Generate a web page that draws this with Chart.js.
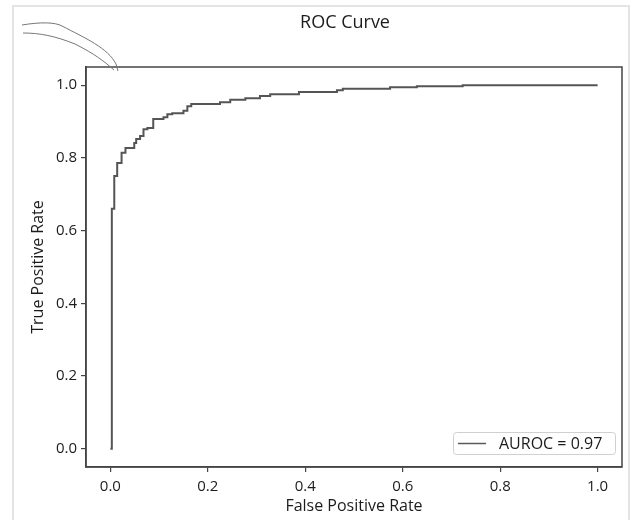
<!DOCTYPE html>
<html>
<head>
<meta charset="utf-8">
<script src="https://cdn.jsdelivr.net/npm/chart.js@4"></script>
<style>
  html, body { margin: 0; padding: 0; background: #fff; }
  #wrap { width: 631px; height: 520px; }
</style>
</head>
<body>
<div id="wrap"><canvas id="roc" width="631" height="520"></canvas></div>
<script>
// ROC points (step curve)
var fpr = [0, 0.003, 0.008, 0.014, 0.023, 0.031, 0.049, 0.053, 0.061, 0.068, 0.076, 0.088, 0.109, 0.117, 0.127,
           0.150, 0.158, 0.166, 0.225, 0.246, 0.277, 0.307, 0.328, 0.387, 0.465, 0.477, 0.574, 0.629, 0.723, 1.0];
var tpr = [0, 0.66, 0.75, 0.786, 0.814, 0.827, 0.841, 0.852, 0.86, 0.879, 0.882, 0.907, 0.912, 0.92, 0.923,
           0.93, 0.942, 0.948, 0.953, 0.96, 0.964, 0.97, 0.975, 0.981, 0.986, 0.99, 0.994, 0.997, 1.0, 1.0];
var tickValues = [0, 0.2, 0.4, 0.6, 0.8, 1.0];
var aurocLabel = 'AUROC = 0.97';

var points = fpr.map(function(x, i){ return {x: x, y: tpr[i]}; });
var fontFam = '"Open Sans", "DejaVu Sans", sans-serif';
var textCol = '#1c1c1c';

// frame, title, pen scribble and in-plot legend
var extras = {
    id: 'extras',
    beforeDraw: function(chart){
        var c = chart.ctx;
        c.save();
        c.fillStyle = '#fff';
        c.fillRect(0, 0, chart.width, chart.height);
        c.strokeStyle = '#e4e4e4';
        c.lineWidth = 2;
        c.strokeRect(13, 6, 616, 530);
        c.restore();
    },
    afterDraw: function(chart){
        var c = chart.ctx, a = chart.chartArea;
        c.save();
        // box round the axes
        c.strokeStyle = '#444';
        c.lineWidth = 1.5;
        c.strokeRect(a.left, a.top, a.right - a.left, a.bottom - a.top);

        // title
        c.fillStyle = textCol;
        c.font = '18px ' + fontFam;
        c.textAlign = 'center';
        c.textBaseline = 'middle';
        c.fillText('ROC Curve', 345, 23);

        // scribble at top-left
        c.strokeStyle = '#777';
        c.lineWidth = 1;
        c.beginPath();
        c.moveTo(22, 25);
        c.bezierCurveTo(40, 22, 55, 22, 62, 26);
        c.bezierCurveTo(85, 38, 108, 48, 116, 64);
        c.lineTo(118, 71);
        c.stroke();
        c.beginPath();
        c.moveTo(23, 33);
        c.bezierCurveTo(40, 33, 55, 36, 75, 44);
        c.bezierCurveTo(95, 54, 105, 62, 114, 70);
        c.stroke();

        // legend
        var lx = 453, ly = 432, lw = 162, lh = 22;
        c.fillStyle = 'rgba(255,255,255,0.85)';
        c.strokeStyle = '#d0d0d0';
        c.lineWidth = 1;
        c.beginPath();
        c.roundRect(lx + 0.5, ly + 0.5, lw, lh, 3);
        c.fill();
        c.stroke();
        c.strokeStyle = '#5a5a5a';
        c.lineWidth = 1.5;
        c.beginPath();
        c.moveTo(458, ly + lh / 2 + 0.5);
        c.lineTo(486, ly + lh / 2 + 0.5);
        c.stroke();
        c.fillStyle = textCol;
        c.font = '16px ' + fontFam;
        c.textAlign = 'left';
        c.fillText(aurocLabel, 499, ly + lh / 2 + 1);
        c.restore();
    }
};

function axisStyle(){
    return {
        type: 'linear',
        min: -0.05,
        max: 1.05,
        afterBuildTicks: function(s){ s.ticks = tickValues.map(function(v){ return {value: v}; }); },
        grid: { display: true, drawOnChartArea: false, drawTicks: true, tickLength: 5, color: '#444', lineWidth: 1.2 },
        border: { display: true, color: '#444', width: 1.5 },
        ticks: {
            color: textCol,
            font: { family: fontFam, size: 15 },
            padding: 6,
            callback: function(v){ return v.toFixed(1); }
        }
    };
}

var xAxis = axisStyle();
xAxis.title = { display: true, text: 'False Positive Rate', color: textCol,
                font: { family: fontFam, size: 16 }, padding: { top: 4, bottom: 4 } };
xAxis.afterFit = function(s){ s.height = 53; };

var yAxis = axisStyle();
yAxis.title = { display: true, text: 'True Positive Rate', color: textCol,
                font: { family: fontFam, size: 16 }, padding: { top: 29, bottom: 29 } };
yAxis.afterFit = function(s){ s.width = 86; };
yAxis.ticks.padding = 4;

new Chart(document.getElementById('roc').getContext('2d'), {
    type: 'line',
    data: {
        datasets: [{
            label: aurocLabel,
            data: points,
            stepped: true,
            borderColor: '#555',
            borderWidth: 2,
            pointRadius: 0,
            fill: false
        }]
    },
    options: {
        responsive: false,
        animation: false,
        layout: { padding: { top: 67, right: 9, left: 0, bottom: 0 } },
        plugins: { legend: { display: false }, tooltip: { enabled: false }, title: { display: false } },
        scales: { x: xAxis, y: yAxis }
    },
    plugins: [extras]
});
</script>
</body>
</html>
